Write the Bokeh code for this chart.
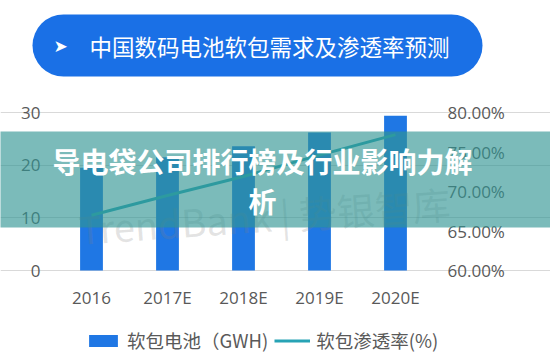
from bokeh.plotting import figure
from bokeh.models import (Range1d, LinearAxis, FixedTicker, NumeralTickFormatter,
                          BoxAnnotation, Label, Legend, LegendItem, ColumnDataSource)
from bokeh.embed import file_html
from bokeh.resources import INLINE

# ---- data ----
categories = ["2016", "2017E", "2018E", "2019E", "2020E"]
demand_gwh = [19.5, 21.5, 23.6, 26.2, 29.4]
penetration = [0.670, 0.695, 0.719, 0.746, 0.772]
left_ticks = [0, 10, 20, 30]
right_ticks = [0.60, 0.65, 0.70, 0.75, 0.80]
title_text = "中国数码电池软包需求及渗透率预测"
bar_label = "软包电池（GWH)"
line_label = "软包渗透率(%)"
banner_line1 = "导电袋公司排行榜及行业影响力解"
banner_line2 = "析"
watermark = "TrendBank | 势银智库"

# ---- layout (pixels) ----
W, H = 550, 360
FL, FR, FT, FB = 53, 433, 112, 270      # plotting area inside the canvas
TXT = "#595959"
BAR = "#1f77e4"
LINE = "#27a3b5"

n = len(categories)
xpos = [i + 0.5 for i in range(n)]       # category centres on a numeric scale
ppx = (FR - FL) / n
x_range = Range1d(-FL / ppx, n + (W - FR) / ppx)
lo, hi = left_ticks[0], left_ticks[-1]
ppy = (FB - FT) / (hi - lo)
y_range = Range1d(lo - (H - FB) / ppy, hi + FT / ppy)
rlo, rhi = right_ticks[0], right_ticks[-1]
rppy = (FB - FT) / (rhi - rlo)
r_range = Range1d(rlo - (H - FB) / rppy, rhi + FT / rppy)

p = figure(width=W, height=H, x_range=x_range, y_range=y_range,
           output_backend="svg", toolbar_location=None, min_border=0)
p.extra_y_ranges = {"pct": r_range}
p.outline_line_color = None
p.background_fill_color = "white"
p.border_fill_color = "white"

p.xgrid.grid_line_color = None
p.ygrid.grid_line_color = "#d9d9d9"
p.ygrid.grid_line_width = 1
p.ygrid.bounds = (0, n)
p.yaxis.ticker = FixedTicker(ticks=left_ticks)
p.ygrid.ticker = FixedTicker(ticks=left_ticks)
p.yaxis.fixed_location = 0
p.xaxis.fixed_location = lo
p.xaxis.ticker = FixedTicker(ticks=xpos)
p.xaxis.major_label_overrides = {x: c for x, c in zip(xpos, categories)}

right = LinearAxis(y_range_name="pct", ticker=FixedTicker(ticks=right_ticks),
                   formatter=NumeralTickFormatter(format="0.00%"), fixed_location=n)
p.add_layout(right, "right")

for ax, standoff in ((p.yaxis[0], 13), (right, 14), (p.xaxis[0], 15)):
    ax.axis_line_color = None
    ax.major_tick_line_color = None
    ax.minor_tick_line_color = None
    ax.major_tick_in = 0
    ax.major_tick_out = 0
    ax.major_label_text_color = TXT
    ax.major_label_text_font = "Open Sans"
    ax.major_label_text_font_size = "17px"
    ax.major_label_standoff = standoff

src = ColumnDataSource(dict(x=xpos, gwh=demand_gwh, pct=penetration))
bars = p.vbar(x="x", top="gwh", width=0.3, source=src, fill_color=BAR, line_color=None)
line = p.line(x="x", y="pct", source=src, y_range_name="pct", line_width=3, line_color=LINE)

legend = Legend(items=[LegendItem(label=bar_label, renderers=[bars]),
                       LegendItem(label=line_label, renderers=[line])],
                orientation="horizontal", location=(85, 7),
                glyph_width=36, glyph_height=15, label_standoff=6, spacing=6,
                label_text_font="Noto Sans CJK SC", label_text_font_size="18.5px",
                label_text_color=TXT, padding=0, margin=0,
                border_line_color=None, background_fill_alpha=0)
p.add_layout(legend)

C = dict(left_units="canvas", right_units="canvas", top_units="canvas", bottom_units="canvas")

p.add_layout(Label(x=78, y=228, x_units="canvas", y_units="canvas", text=watermark,
                   angle=0.07, text_font="Noto Sans CJK SC", text_font_size="38px",
                   text_color="#808080", text_alpha=0.22, text_baseline="alphabetic"))

# title pill
p.add_layout(BoxAnnotation(left=32, right=482, top=14, bottom=76, **C,
                           fill_color="#1a70e6", fill_alpha=1, line_color=None,
                           border_radius=31))
p.add_layout(Label(x=53, y=45, x_units="canvas", y_units="canvas", text="➤",
                   text_font="DejaVu Sans", text_font_size="17px", text_color="white",
                   text_baseline="middle"))
p.add_layout(Label(x=89, y=45, x_units="canvas", y_units="canvas", text=title_text,
                   text_font="Noto Sans CJK SC", text_font_size="22.5px", text_color="white",
                   text_baseline="middle"))

# overlay banner
p.add_layout(BoxAnnotation(left=-10, right=W + 10, top=131, bottom=227, **C,
                           fill_color="#319593", fill_alpha=0.64, line_color=None))
p.add_layout(Label(x=262, y=160, x_units="canvas", y_units="canvas", text=banner_line1,
                   text_font="Noto Sans CJK SC", text_font_size="28px", text_font_style="bold",
                   text_color="white", text_align="center", text_baseline="middle"))
p.add_layout(Label(x=262, y=200, x_units="canvas", y_units="canvas", text=banner_line2,
                   text_font="Noto Sans CJK SC", text_font_size="28px", text_font_style="bold",
                   text_color="white", text_align="center", text_baseline="middle"))

open("out.html", "w").write(file_html(p, INLINE))
